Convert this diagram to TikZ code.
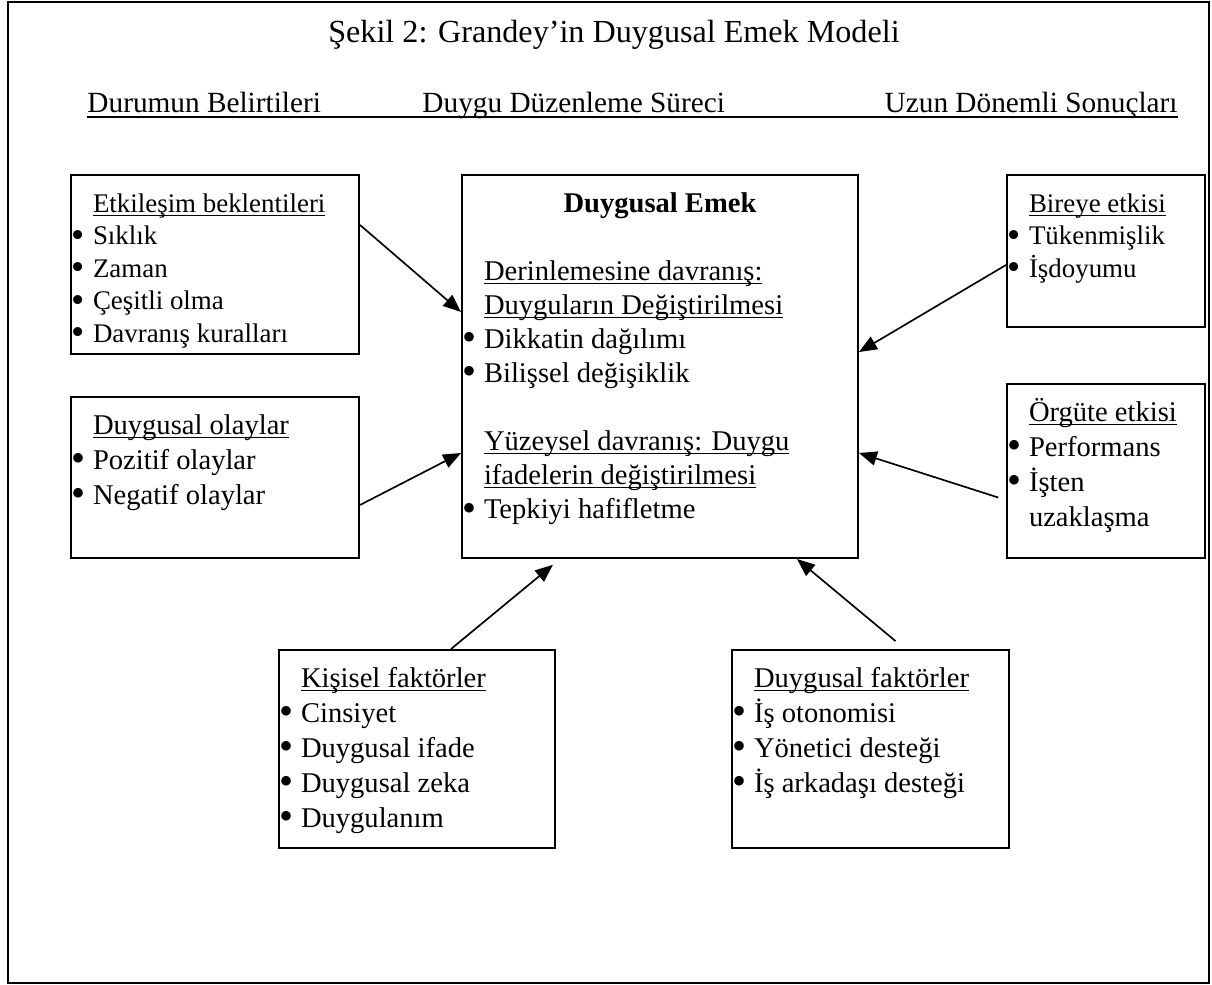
\documentclass[tikz,border=0pt]{standalone}
\usepackage{fontspec}
\usepackage{graphicx}
\setmainfont{Liberation Serif}
\usetikzlibrary{arrows.meta}
\newlength{\pxu}\setlength{\pxu}{0.42pt}
\newcommand{\mad}[1]{\makebox[22\pxu][l]{\raisebox{-1.1pt}{\scalebox{1.4}{\textbullet}}}#1}
\newcommand{\baslik}[1]{\hspace*{22\pxu}\underline{\smash{#1}}}
\newcommand{\ilk}{\rule{0pt}{37\pxu}}
\begin{document}
\begin{tikzpicture}[x = 0.42pt, y = -0.42pt,
	kutu/.style = {draw, line width = 0.85pt, inner sep = 0pt, anchor = north west, font = \fontsize{12}{14.7}\selectfont},
	ust/.style = {inner sep = 0pt, font = \fontsize{12.3}{15}\selectfont},
	ok/.style = {line width = 0.7pt, -{Triangle[length = 7.5pt, width = 6pt]}}]
		\useasboundingbox (0, 0) rectangle (1212, 985);
		% frame
			\draw[line width = 0.85pt] (8, 2) rectangle (1209, 983);
		% title and column heads
		\node[inner sep = 0pt, anchor = base, font = \fontsize{13.5}{16}\selectfont] (sekil) at (614, 43) {Şekil 2: Grandey’in Duygusal Emek Modeli};
		\node[ust, anchor = base west] (durum) at (87, 113) {Durumun Belirtileri};
		\node[ust, anchor = base west] (surec) at (422, 113) {Duygu Düzenleme Süreci};
		\node[ust, anchor = base east] (sonuc) at (1178, 113) {Uzun Dönemli Sonuçları};
		\draw[line width = 0.8pt] ([yshift = -1.7pt]durum.base west) -- ([yshift = -1.7pt]sonuc.base east);
		% left
		\node[kutu, font = \fontsize{11.3}{13.65}\selectfont] (etk) at (70, 174) {\parbox[t][179\pxu][t]{288\pxu}{\ilk\baslik{Etkileşim beklentileri}\\
			\mad{Sıklık}\\ \mad{Zaman}\\ \mad{Çeşitli olma}\\ \mad{Davranış kuralları}}};
		\node[kutu] (olay) at (70, 396) {\parbox[t][161\pxu][t]{288\pxu}{\ilk\baslik{Duygusal olaylar}\\
			\mad{Pozitif olaylar}\\ \mad{Negatif olaylar}}};
		% middle
		\node[kutu, font = \fontsize{12}{14.3}\selectfont] (emek) at (461, 174) {\parbox[t][383\pxu][t]{396\pxu}{\ilk\makebox[\linewidth]{\bfseries Duygusal Emek}\\[14.3pt]
			\baslik{Derinlemesine davranış:}\\ \baslik{Duyguların Değiştirilmesi}\\
			\mad{Dikkatin dağılımı}\\ \mad{Bilişsel değişiklik}\\[14.3pt]
			\baslik{Yüzeysel davranış: Duygu}\\ \baslik{ifadelerin değiştirilmesi}\\
			\mad{Tepkiyi hafifletme}}};
		% right
		\node[kutu, font = \fontsize{11.3}{13.65}\selectfont] (bireye) at (1006, 174) {\parbox[t][152\pxu][t]{198\pxu}{\ilk\baslik{Bireye etkisi}\\
			\mad{Tükenmişlik}\\ \mad{İşdoyumu}}};
		\node[kutu] (orgut) at (1006, 383) {\parbox[t][174\pxu][t]{198\pxu}{\ilk\baslik{Örgüte etkisi}\\
			\mad{Performans}\\ \mad{İşten}\\ \hspace*{22\pxu}uzaklaşma}};
		% bottom
		\node[kutu] (kisi) at (278, 649) {\parbox[t][198\pxu][t]{276\pxu}{\ilk\baslik{Kişisel faktörler}\\
			\mad{Cinsiyet}\\ \mad{Duygusal ifade}\\ \mad{Duygusal zeka}\\ \mad{Duygulanım}}};
		\node[kutu] (duyg) at (731, 649) {\parbox[t][198\pxu][t]{277\pxu}{\ilk\baslik{Duygusal faktörler}\\
			\mad{İş otonomisi}\\ \mad{Yönetici desteği}\\ \mad{İş arkadaşı desteği}}};
		% arrows
		\draw[ok] (etk.east |- 0, 225) -- (emek.west |- 0, 312);
		\draw[ok] (olay.east |- 0, 505) -- (emek.west |- 0, 453);
		\draw[ok] (bireye.west |- 0, 265) -- (emek.east |- 0, 352);
		\draw[ok, shorten <= 3.4pt] (orgut.west |- 0, 500) -- (emek.east |- 0, 453);
		\draw[ok, shorten >= 3.8pt] (kisi.north -| 451, 0) -- (emek.south -| 560, 0);
		\draw[ok, shorten <= 5.2pt] (duyg.north -| 905, 0) -- (emek.south -| 797, 0);
	\end{tikzpicture}
\end{document}
